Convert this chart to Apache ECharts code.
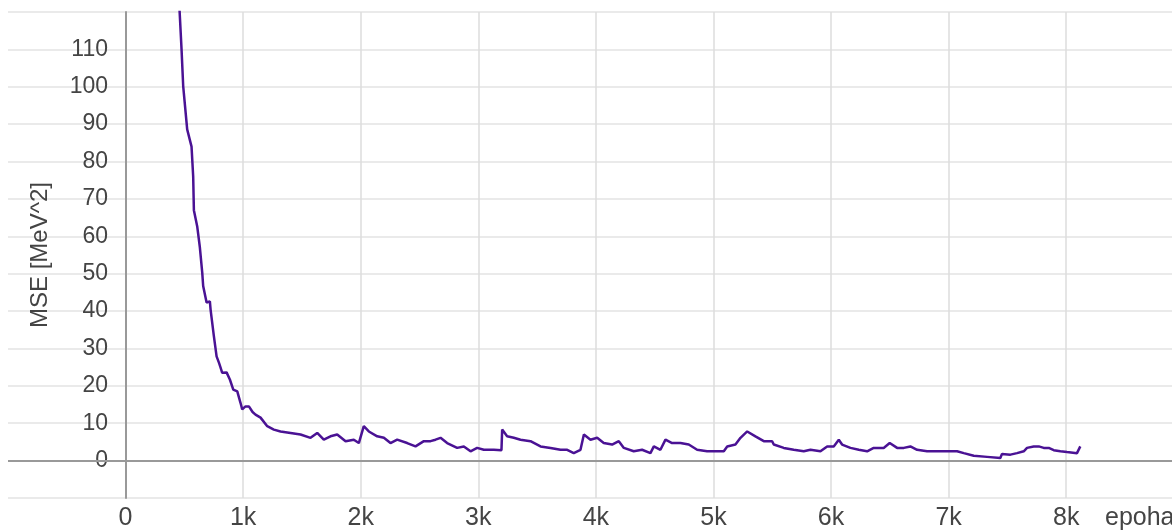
<!DOCTYPE html>
<html>
<head>
<meta charset="utf-8">
<title>MSE</title>
<script src="https://cdn.jsdelivr.net/npm/echarts@6/dist/echarts.min.js"></script>
<style>
  html, body { margin: 0; padding: 0; background: #fff; }
  #chart { width: 1172px; height: 530px; }
</style>
</head>
<body>
<div id="chart"></div>
<script>
// epochs
var epochs = [
  455, 476, 490, 524, 561, 575, 581, 609, 632, 652, 660, 689, 717, 723, 751,
  774, 794, 808, 822, 859, 887, 916, 950, 978, 992, 1006, 1020, 1049, 1080,
  1105, 1148, 1162, 1205, 1261, 1318, 1403, 1488, 1573, 1630, 1686, 1743,
  1800, 1871, 1941, 1984, 2026, 2069, 2140, 2197, 2253, 2310, 2395, 2466,
  2537, 2594, 2636, 2679, 2735, 2820, 2877, 2934, 2990, 3047, 3132, 3197,
  3203, 3245, 3302, 3359, 3444, 3529, 3614, 3699, 3756, 3812, 3869, 3898,
  3954, 4011, 4067, 4138, 4195, 4238, 4322, 4393, 4464, 4493, 4549, 4592,
  4648, 4719, 4790, 4861, 4946, 5003, 5088, 5117, 5187, 5230, 5287, 5357,
  5428, 5499, 5513, 5598, 5683, 5768, 5825, 5910, 5967, 6023, 6066, 6094,
  6165, 6236, 6307, 6363, 6448, 6499, 6562, 6619, 6675, 6732, 6817, 6902,
  6987, 7072, 7129, 7214, 7327, 7440, 7454, 7526, 7582, 7639, 7667, 7724,
  7767, 7809, 7852, 7894, 7951, 8007, 8092, 8120
]
// MSE [MeV^2]
var mse = [
  123, 110, 100.2, 88.6, 84, 76, 67, 62.7, 57, 50.3, 46.7, 42.3, 42.6, 40.4, 33.3,
  27.9, 26.2, 24.9, 23.5, 23.6, 21.7, 19, 18.5, 15.4, 13.7, 13.6, 14.5, 14.5, 13,
  12.3, 11.5, 11, 9.2, 8.3, 7.8, 7.4, 7, 6.1, 7.4, 5.6, 6.5,
  7, 5.2, 5.6, 4.7, 9.2, 7.8, 6.5, 6.1, 4.7, 5.6, 4.7, 3.8,
  5.2, 5.2, 5.6, 6.1, 4.7, 3.4, 3.8, 2.5, 3.4, 2.9, 2.9, 2.8,
  8.3, 6.5, 6.1, 5.6, 5.2, 3.8, 3.4, 2.9, 2.9, 2, 2.9, 7,
  5.6, 6.1, 4.7, 4.3, 5.2, 3.4, 2.5, 2.9, 2, 3.8, 2.9, 5.6,
  4.7, 4.7, 4.3, 2.9, 2.5, 2.5, 2.5, 3.8, 4.3, 6.1, 7.8, 6.5,
  5.2, 5.2, 4.3, 3.4, 2.9, 2.5, 2.9, 2.5, 3.8, 3.8, 5.6, 4.3,
  3.4, 2.9, 2.5, 3.4, 3.4, 4.7, 3.4, 3.4, 3.8, 2.9, 2.5, 2.5,
  2.5, 2.5, 2, 1.3, 1, 0.7, 1.8, 1.6, 2, 2.5, 3.4, 3.8,
  3.8, 3.4, 3.4, 2.8, 2.5, 2.3, 2, 3.8
]

var chart = echarts.init(document.getElementById('chart'))

var labelFont = { color: '#444', fontSize: 23, fontFamily: 'Liberation Sans, Arial, sans-serif' }
var xFont = Object.assign({}, labelFont, { fontSize: 25 })

chart.setOption({
  animation: false,
  grid: {
    left: 8,
    right: 0,
    top: 12,
    bottom: 32,
    containLabel: false,
    outerBoundsMode: 'none'
  },
  xAxis: {
    type: 'value',
    min: -1000,
    max: 8900,
    interval: 1000,
    name: 'epoha',
    nameLocation: 'end',
    nameGap: -67,
    nameTextStyle: Object.assign({ verticalAlign: 'top', padding: [8, 0, 0, 0] }, xFont),
    axisLine: { show: false, onZero: false },
    axisTick: { show: false },
    axisLabel: Object.assign({
      margin: 8,
      formatter: function (v) {
        if (v < 0 || v % 1000 !== 0) return ''
        return v === 0 ? '0' : (v / 1000) + 'k'
      }
    }, xFont),
    splitLine: {
      show: true,
      showMinLine: false,
      showMaxLine: false,
      lineStyle: { color: '#dcdcdc', width: 1.5 }
    }
  },
  yAxis: {
    type: 'value',
    min: -10,
    max: 120,
    interval: 10,
    name: 'MSE [MeV^2]',
    nameLocation: 'middle',
    nameGap: -44,
    nameTextStyle: Object.assign({}, labelFont, { fontSize: 24 }),
    axisLine: { show: true, onZero: true, lineStyle: { color: '#999', width: 2 } },
    axisTick: { show: false },
    axisLabel: Object.assign({
      margin: -100,
      showMinLabel: false,
      showMaxLabel: false
    }, labelFont),
    splitLine: {
      show: true,
      lineStyle: { color: '#e3e3e3', width: 1.5 }
    }
  },
  series: [{
    type: 'line',
    data: epochs.map(function (e, i) { return [e, mse[i]] }),
    showSymbol: false,
    clip: true,
    lineStyle: { color: '#4a1294', width: 2.5 },
    markLine: {
      silent: true,
      symbol: 'none',
      label: { show: false },
      lineStyle: { color: '#999', width: 2, type: 'solid' },
      data: [{ yAxis: 0 }]
    }
  }]
})
</script>
</body>
</html>
